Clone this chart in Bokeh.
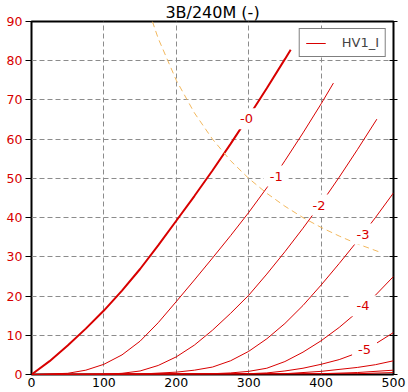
from bokeh.plotting import figure
from bokeh.models import (LinearAxis, FixedTicker, Range1d, Legend, LegendItem)
from bokeh.embed import file_html
from bokeh.resources import INLINE
from bokeh.core.properties import value

# ---------------- data ----------------
x_ticks = [0, 100, 200, 300, 400, 500]
y_ticks = [0, 10, 20, 30, 40, 50, 60, 70, 80, 90]

# grid voltage 0 (thick curve)
g0_v = [0, 25, 50, 75, 100, 125, 150, 175, 200, 225, 250, 275, 300, 325, 350, 358]
g0_i = [0, 3.4, 7.4, 11.7, 16.3, 21.4, 26.9, 32.9, 39.2, 45.5, 52.0, 58.8, 65.8, 73.0, 80.4, 82.8]

g1_v = [0, 50, 75, 100, 125, 150, 175, 200, 225, 250, 275, 300, 325, 350, 375, 400, 417]
g1_i = [0, 0.3, 1.1, 2.6, 5.0, 8.5, 13.2, 18.6, 24.1, 29.7, 35.4, 41.3, 47.6, 54.5, 61.6, 69.0, 74.3]

g2_v = [0, 100, 125, 150, 175, 200, 225, 250, 275, 300, 325, 350, 375, 400, 425, 450, 477]
g2_i = [0, 0.05, 0.3, 0.9, 2.3, 4.5, 7.5, 11.3, 15.6, 20.2, 25.6, 31.3, 37.3, 43.6, 50.3, 57.3, 65.1]

g3_v = [0, 150, 200, 225, 250, 275, 300, 325, 350, 375, 400, 425, 450, 475, 500]
g3_i = [0, 0.1, 0.6, 1.1, 1.9, 3.5, 5.9, 9.1, 13.0, 17.6, 22.8, 28.3, 34.0, 40.0, 46.3]

g4_v = [0, 250, 275, 300, 325, 350, 375, 400, 425, 450, 475, 500]
g4_i = [0, 0.2, 0.4, 0.8, 1.6, 3.3, 5.7, 8.6, 12.0, 15.9, 20.2, 25.0]

g5_v = [0, 300, 325, 350, 375, 400, 425, 450, 475, 500]
g5_i = [0, 0.2, 0.4, 0.9, 1.6, 2.6, 3.8, 5.5, 7.8, 10.7]

g6_v = [0, 350, 400, 450, 475, 500]
g6_i = [0, 0.2, 0.8, 1.8, 2.5, 3.5]

g7_v = [0, 400, 450, 500]
g7_i = [0, 0.2, 0.5, 1.1]

g8_v = [0, 450, 500]
g8_i = [0, 0.2, 0.5]

# max dissipation curve (dashed)
pd_v = [167, 175, 200, 225, 250, 275, 300, 325, 350, 375, 400, 425, 450, 465, 484]
pd_i = [90, 85.7, 75, 66.7, 60, 54.5, 50, 46.2, 42.9, 40, 37.5, 35.3, 33.3, 32.3, 31]

# curve labels
lab_text = ["-0", "-1", "-2", "-3", "-4", "-5"]
lab_v = [297, 338, 397, 458, 458, 460]
lab_i = [65.2, 50.6, 43.2, 35.8, 17.5, 6.3]

title_text = "3B/240M (-)"
legend_text = "HV1_I"

# ---------------- styling ----------------
RED = "#d80000"
FONT = "DejaVu Sans"

p = figure(frame_width=362, frame_height=353,
           x_range=Range1d(0, 500), y_range=Range1d(0, 90),
           output_backend="svg", toolbar_location=None,
           min_border_left=31, min_border_right=15,
           min_border_top=21, min_border_bottom=18,
           title=title_text)

p.title.align = "center"
p.title.text_font = FONT
p.title.text_font_size = "16px"
p.title.text_font_style = "normal"
p.title.text_color = "black"
p.title.standoff = 0
p.title.offset = 0

p.outline_line_color = "black"
p.outline_line_width = 2
p.background_fill_color = "white"
p.border_fill_color = "white"

# axes
p.xaxis.ticker = FixedTicker(ticks=x_ticks)
p.xaxis.major_label_text_font = FONT
p.xaxis.major_label_text_font_size = "12.5px"
p.xaxis.major_label_text_color = "black"
p.xaxis.major_tick_out = 0
p.xaxis.major_tick_in = 0
p.xaxis.minor_tick_out = 0
p.xaxis.minor_tick_in = 0
p.xaxis.major_label_standoff = 3
p.xaxis.axis_line_color = None

p.yaxis.ticker = FixedTicker(ticks=y_ticks)
p.yaxis.major_label_text_font = FONT
p.yaxis.major_label_text_font_size = "12.5px"
p.yaxis.major_label_text_color = RED
p.yaxis.major_tick_out = 6
p.yaxis.major_tick_in = 0
p.yaxis.major_tick_line_color = "black"
p.yaxis.minor_tick_out = 0
p.yaxis.minor_tick_in = 0
p.yaxis.major_label_standoff = 3
p.yaxis.axis_line_color = None

ry = LinearAxis(ticker=FixedTicker(ticks=y_ticks),
                major_label_text_font_size="1px",
                major_label_text_color=None,
                major_tick_in=4, major_tick_out=4,
                minor_tick_in=0, minor_tick_out=0,
                major_label_standoff=0, axis_line_color=None)
p.add_layout(ry, "right")

# grid
p.xgrid.ticker = FixedTicker(ticks=x_ticks)
p.ygrid.ticker = FixedTicker(ticks=y_ticks)
for g in (p.xgrid, p.ygrid):
    g.grid_line_color = "#8c8c8c"
    g.grid_line_dash = "5 3"
    g.grid_line_width = 1

# curves
thin = p.multi_line(xs=[g1_v, g2_v, g3_v, g4_v, g5_v, g6_v, g7_v, g8_v],
                    ys=[g1_i, g2_i, g3_i, g4_i, g5_i, g6_i, g7_i, g8_i],
                    line_color=RED, line_width=1)
p.line(g0_v, g0_i, line_color=RED, line_width=2)

p.line(pd_v, pd_i, line_color="#f2b85e", line_width=1, line_dash="6 4")

p.text(x=lab_v, y=lab_i, text=lab_text, text_font=value(FONT),
       text_font_size="13px", text_color=RED, text_align="center",
       text_baseline="middle", background_fill_color="white", padding=6)

legend = Legend(items=[LegendItem(label=legend_text, renderers=[thin])],
                location="top_right", border_line_color="black",
                border_line_width=1, label_text_font=FONT,
                label_text_font_size="13px", glyph_width=20, glyph_height=12,
                label_height=12, padding=6, margin=7, label_standoff=16,
                background_fill_alpha=1.0)
p.add_layout(legend)

open("out.html", "w").write(file_html(p, INLINE))
